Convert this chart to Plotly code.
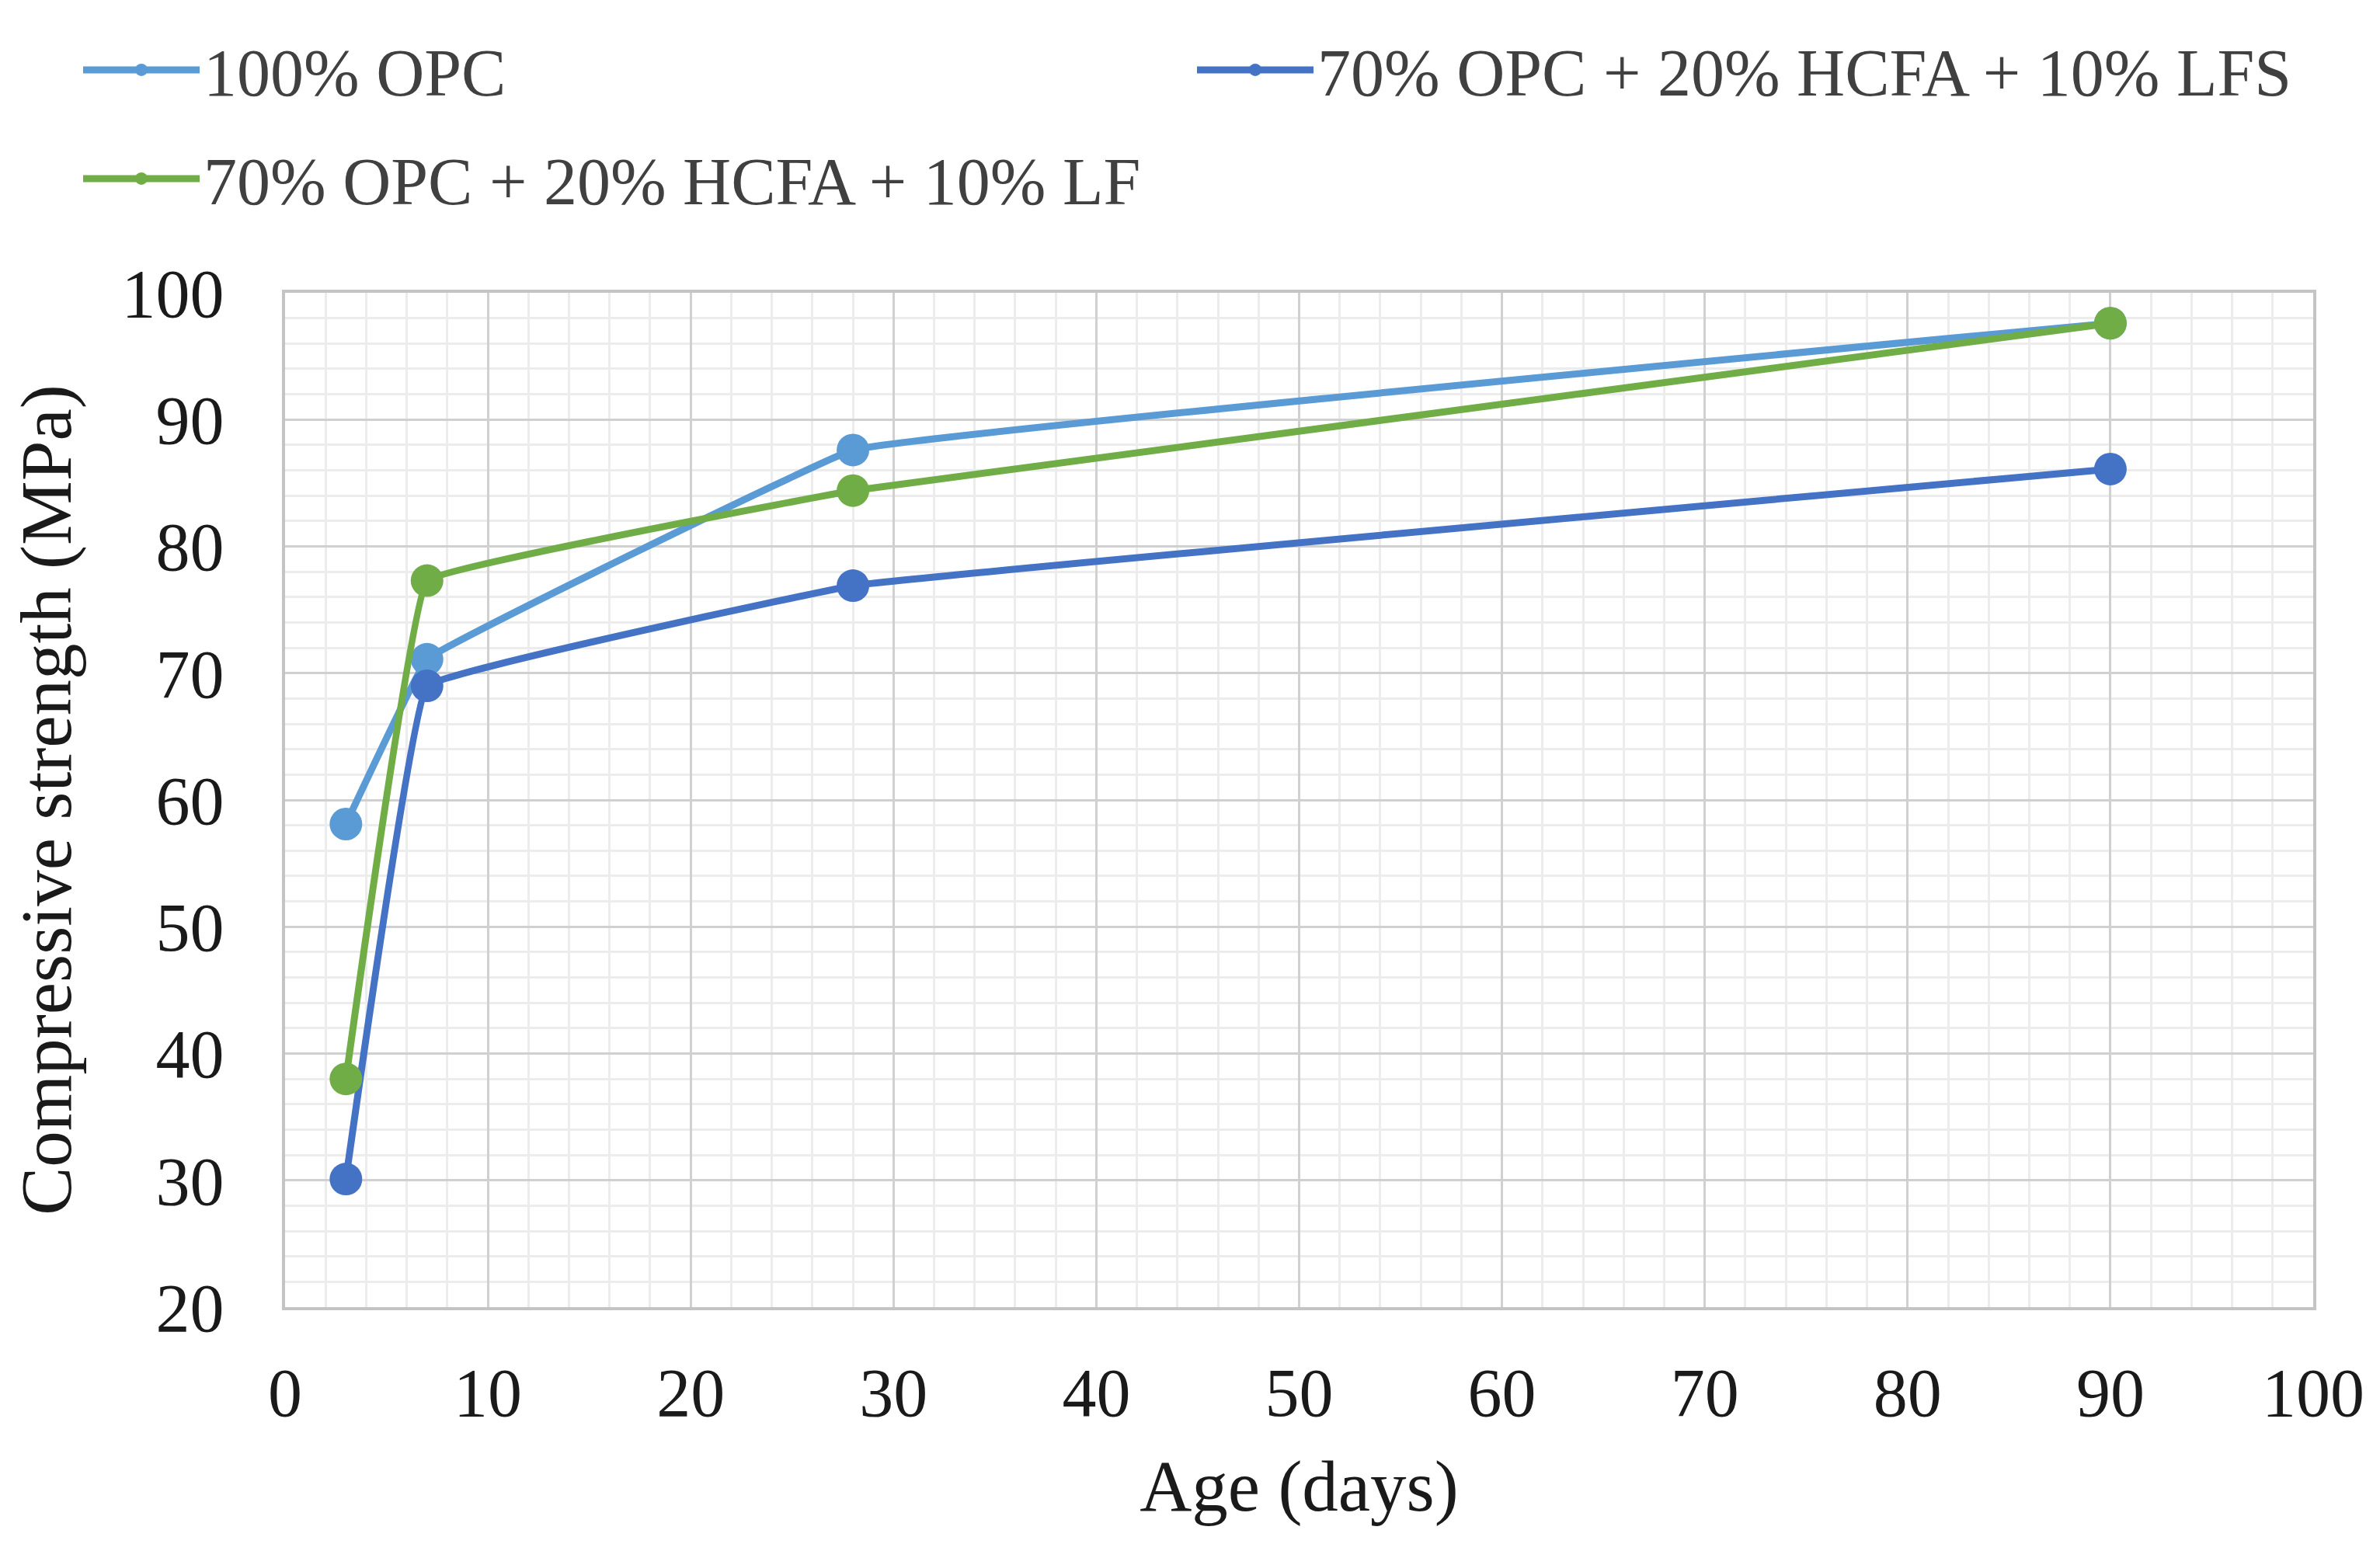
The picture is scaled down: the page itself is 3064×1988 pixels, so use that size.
import plotly.graph_objects as go

age_days = [3, 7, 28, 90]
opc100 = [58.1, 71.1, 87.6, 97.6]
lfs_mix = [30.1, 69.0, 76.9, 86.1]
lf_mix = [38.0, 77.3, 84.4, 97.6]

series_names = [
    "100% OPC",
    "70% OPC + 20% HCFA + 10% LFS",
    "70% OPC + 20% HCFA + 10% LF",
]
series_values = [opc100, lfs_mix, lf_mix]
series_colors = ["#5B9BD5", "#4472C4", "#70AD47"]
legend_ids = ["legend", "legend2", "legend3"]

x_ticks = [0, 10, 20, 30, 40, 50, 60, 70, 80, 90, 100]
y_ticks = [20, 30, 40, 50, 60, 70, 80, 90, 100]

FONT = "Liberation Serif"
W, H = 3064, 1988

fig = go.Figure()
for name, vals, col, lg in zip(series_names, series_values, series_colors, legend_ids):
    fig.add_trace(go.Scatter(
        x=age_days, y=vals, name=name, mode="lines+markers",
        line=dict(color=col, width=9, shape="spline", smoothing=0.15),
        marker=dict(color=col, size=42),
        legend=lg,
    ))

axis_common = dict(
    showline=True, linecolor="#c4c4c4", linewidth=4, mirror=True,
    showgrid=True, gridcolor="#d0d0d0", gridwidth=3,
    zeroline=False, ticks="",
    tickfont=dict(family=FONT, size=88, color="#1a1a1a"),
    title_font=dict(family=FONT, size=93, color="#1a1a1a"),
    minor=dict(showgrid=True, gridcolor="#ececec", gridwidth=3, dtick=2),
)

fig.update_xaxes(
    range=[0, 100], tickvals=x_ticks, title_text="Age (days)",
    title_standoff=40, ticklabelstandoff=30, **axis_common,
)
fig.update_yaxes(
    range=[20, 100], tickvals=y_ticks, title_text="Compressive strength (MPa)",
    title_standoff=35, ticklabelstandoff=57, **axis_common,
)

legend_common = dict(
    orientation="h", xref="container", yref="container",
    xanchor="left", yanchor="middle",
    font=dict(family=FONT, size=86, color="#404040"),
    itemwidth=150, bgcolor="rgba(0,0,0,0)", borderwidth=0,
)

fig.update_layout(
    width=W, height=H,
    margin=dict(l=359, r=94, t=369, b=313, autoexpand=False),
    paper_bgcolor="white", plot_bgcolor="white",
    showlegend=True,
    legend=dict(x=94 / W, y=1 - 82 / H, **legend_common),
    legend2=dict(x=1528 / W, y=1 - 82 / H, **legend_common),
    legend3=dict(x=94 / W, y=1 - 222 / H, **legend_common),
)

fig.write_html("out.html")
